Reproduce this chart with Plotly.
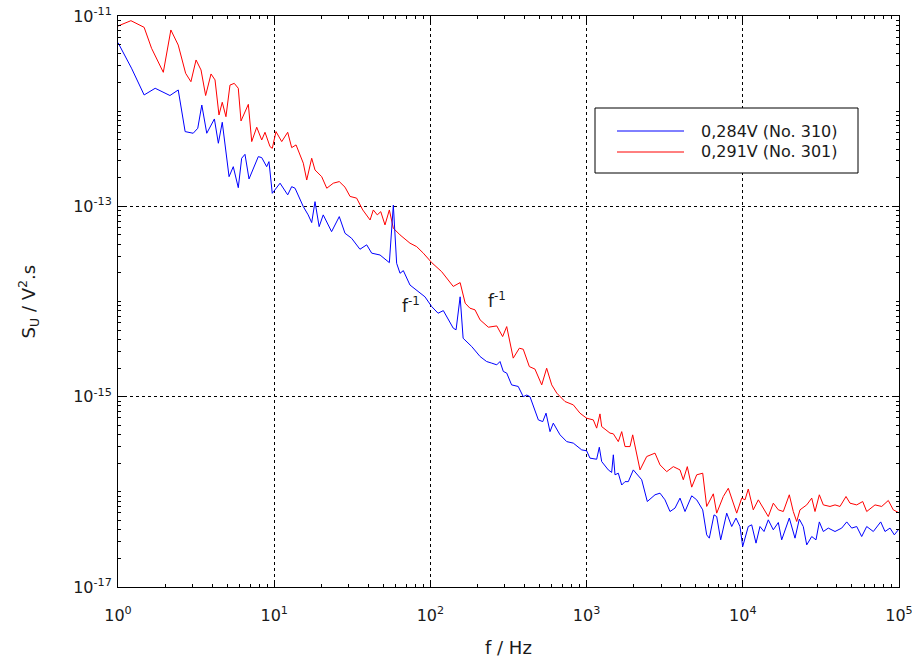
import plotly.graph_objects as go

# ---------------- data ----------------
f_red = [1.0, 1.21, 1.47, 1.64, 1.95, 2.18, 2.43, 2.71, 2.93, 3.16,
         3.40, 3.64, 3.94, 4.18, 4.43, 4.65, 4.91, 5.21, 5.55, 5.89,
         6.13, 6.83, 7.18, 7.73, 8.32, 8.73, 9.40, 9.72, 10.27, 11.17,
         12.2, 12.94, 13.8, 15.36, 16.15, 17.38, 18.25, 20.14, 21.7, 23.9,
         26.1, 28.4, 30.6, 33.7, 36.9, 41.1, 43.1, 45.7, 48.1, 51.2,
         54.6, 57.9, 63.9, 74.0, 81.7, 90.1, 102, 118, 140, 155,
         167, 179, 193, 208, 235, 266, 290, 308, 339, 371,
         393, 430, 467, 516, 555, 598, 644, 727, 822, 907,
         1000, 1104, 1160, 1218, 1249, 1412, 1483, 1596, 1678, 1762,
         1896, 1973, 2198, 2425, 2741, 2951, 3257, 3591, 3963, 4160,
         4413, 4709, 5069, 5538, 5873, 6475, 6806, 7503, 8075, 8693,
         9142, 9840, 10330, 10840, 11670, 12570, 13530, 14560, 15680, 16880,
         18170, 19850, 21050, 22130, 23240, 25660, 27620, 28990, 30900, 32770,
         36160, 38940, 41920, 45790, 48570, 53610, 58570, 62130, 70220, 77490,
         85410, 91930, 99000]
s_red = [7.85e-12, 8.93e-12, 7.60e-12, 4.58e-12, 2.56e-12, 7.13e-12, 4.95e-12, 2.50e-12, 2.04e-12, 3.45e-12,
         2.71e-12, 1.46e-12, 2.46e-12, 2.13e-12, 9.12e-13, 1.24e-12, 8.75e-13, 1.88e-12, 1.96e-12, 1.74e-12,
         7.89e-13, 1.18e-12, 4.79e-13, 6.78e-13, 4.98e-13, 6.00e-13, 4.24e-13, 4.07e-13, 6.10e-13, 4.79e-13,
         6.00e-13, 4.14e-13, 4.42e-13, 2.84e-13, 1.89e-13, 3.20e-13, 2.41e-13, 2.05e-13, 1.55e-13, 1.75e-13,
         1.82e-13, 1.59e-13, 1.27e-13, 1.22e-13, 9.16e-14, 7.19e-14, 9.16e-14, 8.13e-14, 8.79e-14, 6.38e-14,
         9.16e-14, 5.89e-14, 5.01e-14, 4.10e-14, 3.77e-14, 3.22e-14, 2.56e-14, 2.06e-14, 1.44e-14, 1.58e-14,
         9.6e-15, 8.51e-15, 8.17e-15, 6.41e-15, 5.37e-15, 5.54e-15, 4.28e-15, 5.45e-15, 2.54e-15, 3.23e-15,
         3.15e-15, 2.07e-15, 1.95e-15, 1.33e-15, 1.99e-15, 1.33e-15, 1.09e-15, 8.89e-16, 8.20e-16, 6.71e-16,
         5.94e-16, 5.70e-16, 4.67e-16, 6.59e-16, 4.85e-16, 4.14e-16, 4.07e-16, 3.37e-16, 4.29e-16, 2.99e-16,
         2.99e-16, 3.97e-16, 1.70e-16, 2.35e-16, 2.55e-16, 1.92e-16, 1.63e-16, 1.84e-16, 1.70e-16, 1.34e-16,
         1.84e-16, 1.12e-16, 1.51e-16, 1.57e-16, 7.02e-17, 9.53e-17, 5.97e-17, 8.93e-17, 1.09e-16, 7.60e-17,
         5.97e-17, 8.59e-17, 8.24e-17, 1.07e-16, 6.47e-17, 8.24e-17, 6.75e-17, 5.50e-17, 7.60e-17, 6.47e-17,
         6.21e-17, 9.31e-17, 6.21e-17, 4.88e-17, 6.47e-17, 7.29e-17, 8.59e-17, 6.21e-17, 9.31e-17, 7.29e-17,
         7.02e-17, 7.29e-17, 7.02e-17, 8.93e-17, 7.60e-17, 7.29e-17, 7.91e-17, 6.21e-17, 7.29e-17, 7.02e-17,
         8.11e-17, 6.47e-17, 6.07e-17]

f_blue = [1.0, 1.22, 1.47, 1.73, 2.15, 2.43, 2.69, 3.03, 3.24, 3.44,
          3.70, 4.14, 4.39, 4.65, 5.14, 5.47, 5.89, 6.19, 6.50, 6.90,
          7.91, 8.32, 8.95, 9.26, 9.72, 10.9, 12.2, 12.94, 13.6, 15.36,
          16.5, 17.38, 18.25, 19.4, 20.6, 23.3, 26.1, 28.4, 31.3, 35.4,
          39.1, 42.1, 47.6, 51.2, 54.6, 57.9, 60.8, 63.9, 67.1, 74.0,
          81.7, 92.3, 102, 112, 121, 140, 146, 155, 162, 184,
          208, 229, 247, 266, 279, 293, 308, 331, 365, 393,
          414, 434, 491, 524, 550, 583, 612, 676, 746, 822,
          930, 1000, 1051, 1160, 1206, 1249, 1377, 1447, 1483, 1520,
          1596, 1678, 1762, 1849, 1991, 2253, 2447, 2741, 2951, 3176,
          3420, 3681, 3963, 4266, 4709, 5069, 5538, 5873, 6104, 6542,
          6806, 7220, 7889, 8492, 9046, 9594, 9984, 10840, 11400, 12150,
          12880, 13670, 14560, 15680, 16880, 17740, 19850, 21590, 23000, 24390,
          25660, 27620, 29420, 30900, 32770, 35270, 38940, 42980, 46270, 49810,
          53610, 57700, 62130, 68480, 76340, 81360, 87600, 93330, 99000]
s_blue = [5.25e-12, 2.83e-12, 1.48e-12, 1.74e-12, 1.46e-12, 1.67e-12, 6.10e-13, 5.86e-13, 6.61e-13, 1.16e-12,
          5.86e-13, 8.28e-13, 4.60e-13, 7.64e-13, 2.05e-13, 2.61e-13, 1.57e-13, 3.20e-13, 3.52e-13, 1.94e-13,
          3.33e-13, 3.25e-13, 2.61e-13, 2.95e-13, 1.37e-13, 1.75e-13, 1.32e-13, 1.61e-13, 1.55e-13, 9.93e-14,
          8.13e-14, 6.75e-14, 1.12e-13, 6.12e-14, 8.13e-14, 5.42e-14, 7.80e-14, 5.21e-14, 4.62e-14, 3.54e-14,
          3.94e-14, 3.22e-14, 3.08e-14, 2.78e-14, 2.56e-14, 1.03e-13, 2.52e-14, 1.98e-14, 2.11e-14, 1.49e-14,
          1.30e-14, 1.12e-14, 8.83e-15, 7.53e-15, 8.02e-15, 5.25e-15, 5.04e-15, 1.12e-14, 4.11e-15, 3.36e-15,
          2.64e-15, 2.34e-15, 2.25e-15, 2.16e-15, 2.34e-15, 1.84e-15, 1.77e-15, 1.33e-15, 1.28e-15, 1.00e-15,
          1.04e-15, 1.00e-15, 5.70e-16, 5.47e-16, 6.71e-16, 4.29e-16, 5.27e-16, 3.97e-16, 3.37e-16, 3.25e-16,
          2.76e-16, 2.70e-16, 2.26e-16, 2.20e-16, 2.94e-16, 2.08e-16, 1.70e-16, 1.60e-16, 2.45e-16, 1.51e-16,
          1.57e-16, 1.18e-16, 1.28e-16, 1.28e-16, 1.70e-16, 1.34e-16, 7.91e-17, 9.31e-17, 9.68e-17, 8.24e-17,
          6.21e-17, 6.75e-17, 8.59e-17, 6.21e-17, 9.08e-17, 8.24e-17, 6.47e-17, 3.53e-17, 3.26e-17, 5.73e-17,
          5.50e-17, 3.13e-17, 5.97e-17, 4.32e-17, 5.30e-17, 4.32e-17, 2.66e-17, 4.32e-17, 4.50e-17, 2.89e-17,
          4.32e-17, 3.83e-17, 5.08e-17, 3.99e-17, 4.76e-17, 3.13e-17, 5.30e-17, 3.26e-17, 5.17e-17, 4.32e-17,
          2.77e-17, 3.39e-17, 3.13e-17, 4.83e-17, 3.83e-17, 4.16e-17, 3.83e-17, 4.16e-17, 4.83e-17, 4.16e-17,
          4.32e-17, 3.39e-17, 4.32e-17, 3.83e-17, 4.83e-17, 3.83e-17, 4.16e-17, 3.53e-17, 3.99e-17]

name_blue = "0,284V (No. 310)"
name_red = "0,291V (No. 301)"

x_tickvals = [1, 10, 100, 1000, 10000, 100000]
x_ticktext = ["10<sup>0</sup>", "10<sup>1</sup>", "10<sup>2</sup>",
              "10<sup>3</sup>", "10<sup>4</sup>", "10<sup>5</sup>"]
y_tickvals = [1e-17, 1e-15, 1e-13, 1e-11]
y_ticktext = ["10<sup>-17</sup>", "10<sup>-15</sup>", "10<sup>-13</sup>", "10<sup>-11</sup>"]

# minor tick positions
x_minor = [k * 10 ** d for d in range(0, 5) for k in range(2, 10)]
y_minor = [k * 10.0 ** d for d in range(-17, -11) for k in range(1, 10)
           if not (k == 1 and d in (-17, -15, -13))]

FONT = "DejaVu Sans"
TXT = "#1a1a1a"

fig = go.Figure()
fig.add_trace(go.Scatter(x=f_red, y=s_red, mode="lines", name=name_red,
                         line=dict(color="#ff0000", width=1), showlegend=False))
fig.add_trace(go.Scatter(x=f_blue, y=s_blue, mode="lines", name=name_blue,
                         line=dict(color="#0000ff", width=1), showlegend=False))

axis_common = dict(
    showline=True, linecolor="black", linewidth=1, mirror="allticks",
    ticks="inside", ticklen=6, tickcolor="black", tickwidth=1,
    showgrid=True, gridcolor="black", gridwidth=1, griddash="3px,3px",
    zeroline=False, tickfont=dict(family=FONT, size=16, color=TXT),
    ticklabeloverflow="allow", automargin=False,
)

fig.update_xaxes(type="log", range=[0, 5], tickmode="array",
                 tickvals=x_tickvals, ticktext=x_ticktext, ticklabelstandoff=14,
                 minor=dict(tickmode="array", tickvals=x_minor, ticks="inside",
                            ticklen=3, tickcolor="black", showgrid=False),
                 **axis_common)
fig.update_yaxes(type="log", range=[-17, -11], tickmode="array",
                 tickvals=y_tickvals, ticktext=y_ticktext, ticklabelstandoff=2,
                 minor=dict(tickmode="array", tickvals=y_minor, ticks="inside",
                            ticklen=3, tickcolor="black", showgrid=False),
                 **axis_common)

W, H = 912, 664
L, R, T, B = 118, 13, 16, 77
PW, PH = W - L - R, H - T - B


def px(x):
    return (x - L) / PW


def py(y):
    return (H - B - y) / PH


annotations = [
    dict(text="f / Hz", x=0.5, y=py(647), xref="paper", yref="paper",
         showarrow=False, xanchor="center", yanchor="middle",
         font=dict(family=FONT, size=18, color=TXT)),
    dict(text="S<sub>U</sub> / V<sup>2</sup>.s", x=px(28), y=0.5, xref="paper", yref="paper",
         showarrow=False, xanchor="center", yanchor="middle", textangle=-90,
         font=dict(family=FONT, size=18, color=TXT)),
    dict(text="f<sup>-1</sup>", x=px(400), y=py(305), xref="paper", yref="paper",
         showarrow=False, xanchor="left", yanchor="middle",
         font=dict(family=FONT, size=17, color=TXT)),
    dict(text="f<sup>-1</sup>", x=px(486), y=py(300), xref="paper", yref="paper",
         showarrow=False, xanchor="left", yanchor="middle",
         font=dict(family=FONT, size=17, color=TXT)),
    dict(text=name_blue, x=px(699), y=py(131), xref="paper", yref="paper",
         showarrow=False, xanchor="left", yanchor="middle",
         font=dict(family=FONT, size=16, color=TXT)),
    dict(text=name_red, x=px(699), y=py(152), xref="paper", yref="paper",
         showarrow=False, xanchor="left", yanchor="middle",
         font=dict(family=FONT, size=16, color=TXT)),
]

shapes = [
    dict(type="rect", xref="paper", yref="paper", x0=px(595), x1=px(858), y0=py(173), y1=py(108),
         line=dict(color="black", width=1), fillcolor="white", layer="above"),
    dict(type="line", xref="paper", yref="paper", x0=px(617), x1=px(684), y0=py(131), y1=py(131),
         line=dict(color="#0000ff", width=1), layer="above"),
    dict(type="line", xref="paper", yref="paper", x0=px(617), x1=px(684), y0=py(152), y1=py(152),
         line=dict(color="#ff0000", width=1), layer="above"),
]

fig.update_layout(
    width=W, height=H, autosize=False,
    margin=dict(l=L, r=R, t=T, b=B, pad=0, autoexpand=False),
    paper_bgcolor="white", plot_bgcolor="white",
    annotations=annotations, shapes=shapes,
    showlegend=False,
    font=dict(family=FONT, size=16, color=TXT),
)

fig.write_html("out.html")
